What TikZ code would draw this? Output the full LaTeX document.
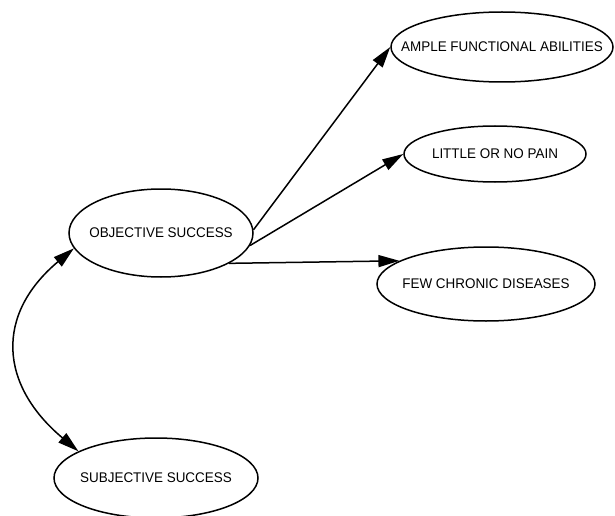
\documentclass[tikz,border=0pt]{standalone}
\usepackage{fontspec}
\setmainfont{Liberation Sans}[FakeStretch=0.96]
\usepackage{tikz}
\usetikzlibrary{arrows.meta}
\usetikzlibrary{shapes.geometric}

\begin{document}
\begin{tikzpicture}[
  x=1pt, y=1pt,
  oval/.style={
    ellipse,
    draw=black,
    line width=1.5pt,
    minimum width=#1,
    inner sep=0pt,
    font=\fontsize{14}{16}\selectfont,
    execute at begin node=\hbox to 0pt\bgroup\hss,
    execute at end node=\hss\egroup
  },
  link/.style={-{Triangle[length=21pt, width=12pt]}, line width=1.5pt, black},
  duallink/.style={{Triangle[length=21pt, width=12pt]}-{Triangle[length=21pt, width=12pt]}, line width=1.5pt, black}
]
\useasboundingbox (0,0) rectangle (615,515);
\node[oval=184pt, minimum height=88pt] (obj) at (161, 282) {OBJECTIVE SUCCESS};
\node[oval=204pt, minimum height=80pt] (subj) at (156, 37) {SUBJECTIVE SUCCESS};
\node[oval=222pt, minimum height=70pt] (ample) at (502, 468) {AMPLE FUNCTIONAL ABILITIES};
\node[oval=182pt, minimum height=56pt] (pain) at (495, 361) {LITTLE OR NO PAIN};
\node[oval=218pt, minimum height=74pt] (chronic) at (486, 231) {FEW CHRONIC DISEASES};
% outcomes of objective success
\draw[link] (obj.2) -- (ample.west);
\draw[link] (obj.-8) -- (pain.west);
\draw[link] (obj.-24) -- (chronic.165);
% objective <-> subjective
\draw[duallink] (obj.190) to[out=220, in=140, looseness=1.3] (subj.161);
\end{tikzpicture}
\end{document}
